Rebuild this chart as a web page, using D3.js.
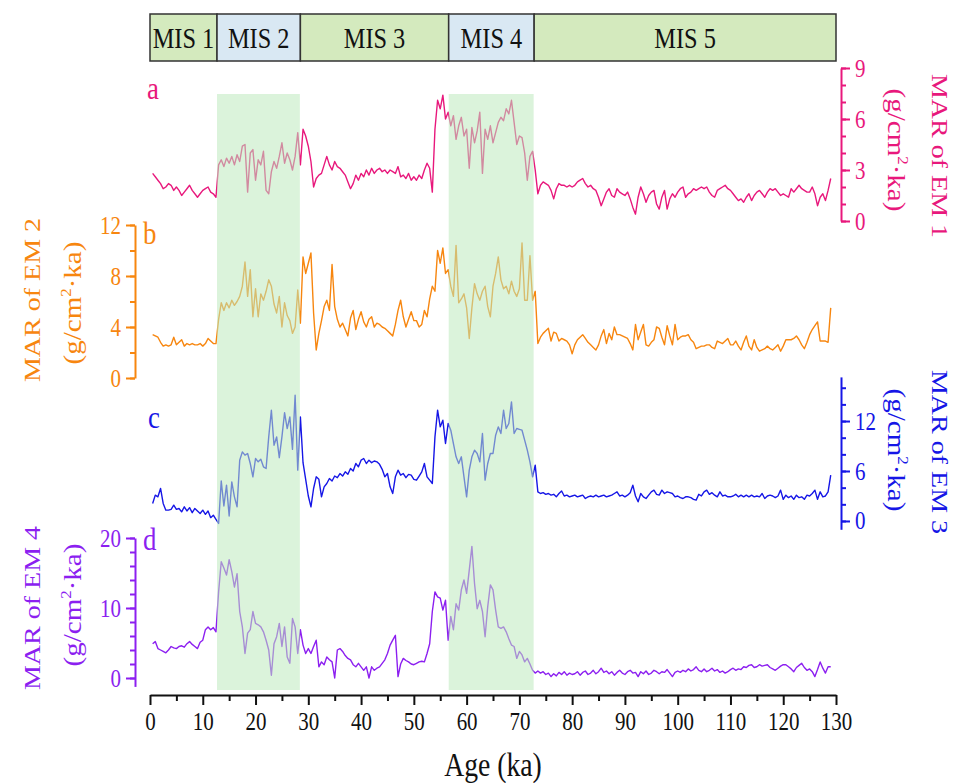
<!DOCTYPE html>
<html>
<head>
<meta charset="utf-8">
<script src="https://cdn.jsdelivr.net/npm/d3@7"></script>
<style>
	body { margin: 0; background: #fff; }
	svg text { font-family: "Liberation Serif", "DejaVu Serif", serif; }
</style>
</head>
<body>
<svg id="chart" width="968" height="783"></svg>
<script>
// ---- data ---------------------------------------------------------------
// sample ages, 0.5 ... 129.0 ka
const ages = d3.range(1, 259).map(i => i * 0.5);

// MAR of EM 1 (g/cm2.ka)
const em1 = [
	2.8, 2.6, 2.4, 2.2, 1.9, 2.0, 2.2, 2.1, 1.8, 2.0, 1.8, 1.5, 1.7, 1.9, 2.1, 1.8, 1.6, 1.4, 1.6, 1.8,
	1.9, 2.0, 1.7, 1.6, 1.4, 3.3, 3.6, 3.2, 3.7, 3.4, 3.8, 3.3, 3.9, 3.5, 4.4, 4.5, 1.7, 4.0, 4.2, 2.4,
	3.6, 3.3, 4.1, 1.8, 1.6, 2.9, 3.5, 3.1, 3.8, 4.6, 3.4, 4.0, 3.6, 3.0, 3.8, 5.2, 3.3, 5.4, 5.0, 4.4,
	3.5, 2.0, 2.5, 2.7, 2.8, 3.3, 3.8, 3.3, 3.0, 3.5, 3.2, 3.1, 2.9, 2.7, 2.3, 1.9, 2.2, 2.7, 2.4, 2.8,
	2.6, 3.0, 2.7, 3.1, 2.8, 3.0, 3.1, 2.9, 3.0, 2.8, 3.0, 2.9, 2.8, 3.2, 2.6, 2.7, 2.5, 2.8, 2.4, 2.6,
	2.4, 2.7, 2.5, 3.0, 3.4, 3.1, 1.7, 5.4, 7.1, 6.6, 7.4, 6.0, 6.4, 5.6, 6.2, 4.8, 5.6, 6.1, 5.0, 5.4,
	3.1, 5.5, 4.6, 5.3, 6.4, 2.8, 5.4, 4.8, 5.6, 4.6, 5.2, 5.8, 6.1, 5.9, 6.6, 6.3, 7.1, 5.8, 4.5, 5.0,
	4.9, 4.0, 2.4, 3.8, 4.1, 3.0, 1.6, 2.1, 2.3, 2.2, 2.1, 1.8, 1.3, 1.9, 2.2, 2.1, 2.1, 2.0, 2.1, 2.0,
	2.1, 2.3, 2.4, 2.5, 2.2, 2.0, 2.1, 1.9, 1.8, 1.4, 0.9, 1.3, 1.7, 1.9, 1.5, 1.4, 1.9, 1.7, 1.6, 1.5,
	1.7, 1.3, 0.8, 0.4, 1.4, 2.0, 1.6, 1.1, 1.5, 1.7, 1.8, 1.0, 0.7, 1.4, 1.8, 0.7, 1.3, 1.6, 1.4, 1.7,
	1.9, 2.0, 1.4, 1.6, 1.7, 1.9, 1.8, 1.9, 2.0, 1.9, 2.0, 1.7, 1.5, 1.4, 1.8, 1.9, 2.0, 2.1, 1.9, 1.8,
	1.6, 1.4, 1.2, 1.3, 1.1, 1.4, 1.6, 1.2, 1.5, 1.7, 1.8, 1.6, 1.4, 1.7, 1.9, 1.8, 1.9, 1.7, 1.5, 1.6,
	1.5, 1.4, 1.9, 1.7, 1.9, 2.1, 1.9, 1.8, 1.7, 1.7, 2.0, 1.6, 0.9, 1.4, 1.6, 1.2, 1.8, 2.5
];

// MAR of EM 2
const em2 = [
	3.4, 3.3, 3.2, 2.8, 2.5, 2.6, 2.5, 2.6, 3.2, 2.6, 2.8, 3.0, 2.5, 2.7, 2.6, 2.7, 2.6, 2.6, 2.7, 2.5,
	2.7, 3.1, 2.9, 2.7, 2.7, 4.6, 5.9, 5.3, 5.9, 5.5, 6.1, 5.7, 6.0, 6.4, 7.2, 9.1, 6.4, 8.5, 4.8, 7.0,
	4.8, 6.6, 6.1, 6.8, 7.7, 7.2, 5.8, 5.1, 6.4, 4.0, 5.9, 4.9, 4.5, 3.5, 4.0, 6.9, 4.3, 9.5, 8.2, 9.0,
	9.8, 5.1, 2.2, 3.5, 4.5, 5.6, 6.1, 5.3, 8.9, 5.6, 4.6, 4.0, 4.3, 3.8, 3.3, 4.7, 5.3, 3.8, 4.6, 5.2,
	4.4, 4.0, 4.6, 4.8, 4.0, 4.3, 4.2, 4.0, 3.9, 3.7, 3.5, 3.3, 4.2, 5.3, 6.1, 4.8, 4.0, 4.6, 5.2, 4.5,
	4.5, 4.0, 4.2, 5.3, 4.8, 6.2, 7.2, 6.8, 10.0, 9.0, 10.2, 8.2, 8.5, 7.2, 6.4, 10.4, 5.9, 6.2, 6.6, 5.5,
	3.1, 5.5, 7.4, 6.6, 6.1, 6.8, 7.2, 5.6, 4.8, 7.2, 8.2, 9.5, 7.7, 7.0, 7.2, 6.6, 7.6, 6.8, 6.4, 7.0,
	10.6, 6.1, 6.1, 9.6, 6.1, 6.8, 2.7, 3.2, 3.5, 3.7, 3.9, 2.9, 3.6, 3.5, 2.9, 3.1, 3.0, 2.9, 2.6, 1.9,
	2.6, 3.0, 3.2, 3.4, 3.1, 2.8, 2.6, 2.4, 2.2, 2.6, 3.3, 3.8, 2.7, 3.5, 3.0, 4.0, 3.4, 3.4, 3.3, 3.2,
	3.1, 2.7, 2.2, 4.2, 3.0, 3.6, 4.2, 2.6, 2.5, 2.8, 3.0, 4.0, 3.9, 3.2, 2.6, 4.1, 3.3, 2.6, 4.2, 3.0,
	3.2, 3.3, 3.3, 3.4, 3.0, 2.8, 2.3, 2.4, 2.5, 2.5, 2.6, 2.6, 2.4, 2.3, 2.9, 2.8, 2.7, 2.9, 3.1, 2.6,
	2.6, 2.9, 2.5, 2.2, 2.8, 3.3, 2.5, 2.2, 3.0, 2.4, 2.1, 2.2, 2.3, 2.5, 2.3, 2.2, 2.4, 2.6, 2.1, 2.5,
	3.0, 3.0, 3.0, 3.1, 3.3, 3.0, 2.6, 2.3, 2.8, 3.4, 3.8, 4.1, 4.4, 2.9, 2.9, 2.9, 2.8, 5.5
];

// MAR of EM 3
const em3 = [
	2.1, 3.1, 2.9, 3.9, 2.1, 1.3, 1.3, 1.4, 1.9, 1.4, 1.5, 1.1, 1.7, 1.2, 1.6, 1.0, 1.5, 1.2, 0.9, 1.3,
	0.8, 1.2, 0.4, 0.7, 0.2, -0.3, 4.8, 1.8, 4.3, 0.6, 4.7, 2.9, 1.7, 7.3, 8.3, 7.9, 8.1, 6.9, 5.3, 7.5,
	7.1, 7.4, 6.5, 6.3, 10.1, 13.3, 9.1, 10.1, 7.6, 10.1, 13.0, 11.1, 12.5, 8.6, 15.1, 6.1, 12.5, 7.0, 5.0, 3.0,
	1.7, 3.9, 5.3, 5.0, 2.9, 4.1, 4.5, 5.1, 4.8, 5.4, 5.2, 5.7, 5.4, 5.9, 5.6, 6.3, 6.0, 6.9, 6.5, 7.3,
	7.5, 6.9, 7.3, 7.0, 7.2, 7.1, 6.8, 6.2, 5.3, 5.7, 4.1, 3.3, 5.3, 6.1, 5.5, 5.7, 5.2, 5.6, 5.5, 5.0,
	4.9, 5.4, 5.9, 6.9, 5.3, 4.9, 4.5, 10.1, 13.3, 11.3, 12.1, 9.3, 11.7, 10.9, 9.3, 7.7, 6.9, 7.7, 5.3, 2.9,
	6.1, 7.7, 8.5, 8.1, 7.1, 10.5, 4.9, 6.9, 8.1, 8.1, 10.3, 11.3, 10.5, 13.3, 11.1, 11.7, 14.3, 10.5, 11.1, 11.0,
	10.9, 9.7, 8.5, 7.1, 5.3, 6.7, 3.5, 3.3, 3.4, 3.2, 3.3, 3.1, 3.2, 2.9, 3.3, 3.6, 3.0, 3.1, 2.9, 3.0,
	3.1, 2.9, 3.0, 3.1, 2.7, 2.9, 3.0, 2.9, 3.1, 2.9, 3.0, 3.1, 2.9, 3.0, 3.1, 3.3, 3.5, 3.0, 3.1, 2.9,
	3.1, 3.4, 4.3, 3.0, 2.3, 3.3, 2.9, 2.7, 3.1, 3.5, 3.7, 3.2, 3.1, 3.7, 3.3, 3.5, 3.4, 3.3, 2.9, 3.0,
	2.8, 2.7, 2.9, 2.9, 2.8, 2.6, 2.5, 3.2, 3.0, 3.5, 3.7, 3.2, 3.4, 3.1, 2.9, 3.5, 3.0, 3.1, 2.9, 2.9,
	3.0, 3.2, 2.9, 3.1, 2.9, 3.1, 2.9, 3.1, 2.9, 3.0, 2.9, 3.3, 2.7, 3.0, 3.1, 3.0, 2.8, 3.0, 3.7, 2.6,
	3.1, 2.8, 3.0, 2.6, 3.1, 2.8, 2.9, 2.6, 3.1, 3.0, 3.3, 3.7, 2.6, 3.5, 2.9, 3.0, 3.5, 5.5
];

// MAR of EM 4
const em4 = [
	4.9, 5.2, 4.2, 4.0, 3.8, 3.6, 4.0, 4.5, 4.3, 4.2, 4.5, 4.6, 4.4, 4.9, 5.2, 4.8, 4.5, 4.2, 5.1, 5.4,
	6.9, 7.3, 6.9, 7.2, 6.6, 12.3, 16.6, 15.7, 14.7, 16.9, 15.2, 13.0, 14.9, 9.5, 7.3, 3.5, 6.4, 6.9, 9.5, 7.8,
	7.6, 7.3, 6.6, 5.4, 4.0, 0.4, 4.9, 5.9, 7.8, 4.5, 7.3, 3.0, 2.1, 8.5, 7.3, 3.5, 6.9, 4.7, 3.5, 4.2,
	3.5, 4.5, 5.4, 1.6, 2.3, 1.9, 3.0, 2.6, 2.3, 0.0, 4.0, 4.2, 3.8, 3.2, 2.8, 2.6, 1.9, 1.6, 2.1, 1.6,
	1.1, 1.6, 0.0, 1.6, 1.1, 1.4, 1.6, 2.1, 2.6, 3.5, 4.7, 5.4, 6.1, 0.2, 2.0, 2.8, 2.5, 2.3, 2.0, 1.9,
	2.1, 2.3, 2.4, 2.3, 3.5, 4.9, 9.5, 12.3, 11.6, 11.4, 9.7, 11.1, 5.4, 8.8, 6.9, 10.6, 9.7, 12.6, 14.0, 12.1,
	15.4, 18.8, 13.5, 9.9, 11.1, 9.5, 5.9, 10.2, 13.3, 12.6, 9.7, 7.3, 7.1, 7.3, 6.6, 5.6, 4.7, 4.5, 2.8, 3.8,
	3.3, 2.3, 2.8, 2.0, 1.1, 0.7, 1.0, 0.7, 0.9, 0.5, 0.7, 0.2, 0.6, 0.3, 0.8, 0.5, 0.9, 0.4, 0.7, 0.5,
	0.6, 0.9, 0.4, 0.8, 1.0, 0.5, 0.7, 1.1, 0.6, 0.9, 1.4, 0.8, 1.0, 0.6, 0.9, 0.4, 0.8, 1.1, 0.7, 0.5,
	0.9, 1.1, 0.7, 0.8, 0.2, 0.9, 0.6, 1.0, 0.5, 0.7, 1.1, 0.9, 0.6, 0.9, 0.8, 1.2, 0.7, 0.2, 0.8, 1.0,
	0.8, 1.1, 0.9, 1.3, 1.0, 1.2, 1.6, 1.1, 0.9, 1.3, 0.9, 1.1, 1.4, 1.0, 1.2, 0.8, 1.0, 0.7, 0.9, 1.2,
	1.4, 1.1, 1.3, 1.2, 1.6, 1.5, 1.8, 1.9, 1.5, 1.6, 1.9, 1.7, 1.8, 1.9, 1.5, 1.3, 1.1, 1.4, 1.7, 1.9,
	1.9, 1.6, 1.3, 0.9, 1.5, 1.8, 2.1, 1.5, 1.1, 1.3, 0.9, 0.2, 1.2, 2.3, 1.4, 0.7, 1.6, 1.6
];

// marine isotope stages (ka)
const misNames = ['MIS 1', 'MIS 2', 'MIS 3', 'MIS 4', 'MIS 5'];
const misBounds = [0, 12.7, 28.5, 56.6, 72.8, 130];
const glacialBands = [[12.7, 28.4], [56.6, 72.7]];

// tick values
const xMajor = [0, 10, 20, 30, 40, 50, 60, 70, 80, 90, 100, 110, 120, 130];
const xMinor = [5, 15, 25, 35, 45, 55, 65, 75, 85, 95, 105, 115, 125];
const ticksA = [0, 3, 6, 9],   minorA = [0, 1, 2, 3, 4, 5, 6, 7, 8, 9];
const ticksB = [0, 4, 8, 12],  minorB = [0, 2, 4, 6, 8, 10, 12];
const ticksC = [0, 6, 12],     minorC = [0, 2, 4, 6, 8, 10, 12, 14, 16];
const ticksD = [0, 10, 20],    minorD = [0, 2, 4, 6, 8, 10, 12, 14, 16, 18, 20];

// ---- drawing -------------------------------------------------------------
const FONT = '"Liberation Serif", "DejaVu Serif", serif';
const svg = d3.select('#chart').attr('font-family', FONT);
const SQ = 0.84; // the source figure is a bit narrower than its type

// squeeze a text horizontally around its own anchor
function sq(sel) {
	sel.each(function() {
		const t = d3.select(this);
		const tx = +t.attr('x') || 0;
		t.attr('transform', `translate(${tx * (1 - SQ)},0) scale(${SQ},1)`);
	});
}

const x = d3.scaleLinear().domain([0, 130]).range([150, 836]);

// MIS bar
const misG = svg.append('g');
misG.selectAll('rect').data(misNames).join('rect')
	.attr('x', (d, i) => x(misBounds[i]))
	.attr('width', (d, i) => x(misBounds[i + 1]) - x(misBounds[i]))
	.attr('y', 14).attr('height', 47)
	.attr('fill', (d, i) => i % 2 ? '#d9e8f3' : '#d4eabe')
	.attr('stroke', '#333').attr('stroke-width', 1.5);
misG.selectAll('text').data(misNames).join('text')
	.attr('x', (d, i) => (x(misBounds[i]) + x(misBounds[i + 1])) / 2)
	.attr('y', 48)
	.attr('text-anchor', 'middle')
	.attr('font-family', FONT)
	.attr('font-size', 29)
	.attr('fill', '#111')
	.text(d => d)
	.call(sq);

const panels = [
	{values: em1, color: '#e8187c', domain: [0, 9],     range: [221, 68],      side: 'right', major: ticksA, minor: minorA, title: 'MAR of EM 1', letter: 'a', lx: 147, ly: 99,  tx: [897, 940], ty: [150, 156]},
	{values: em2, color: '#f7860f', domain: [0, 12],    range: [378, 225],     side: 'left',  major: ticksB, minor: minorB, title: 'MAR of EM 2', letter: 'b', lx: 143, ly: 244, tx: [72, 32],   ty: [303, 300]},
	{values: em3, color: '#1616e6', domain: [-1, 17.3], range: [529.3, 376.9], side: 'right', major: ticksC, minor: minorC, title: 'MAR of EM 3', letter: 'c', lx: 148, ly: 428, tx: [897, 940], ty: [450, 452]},
	{values: em4, color: '#8c1ff0', domain: [-1.2, 20], range: [686.4, 538],   side: 'left',  major: ticksD, minor: minorD, title: 'MAR of EM 4', letter: 'd', lx: 143, ly: 550, tx: [72, 32],   ty: [605, 608]}
];

panels.forEach(p => {
	p.y = d3.scaleLinear().domain(p.domain).range(p.range);
	const line = d3.line()
		.x((d, i) => x(ages[i]))
		.y(d => p.y(d));
	svg.append('path')
		.attr('d', line(p.values))
		.attr('fill', 'none')
		.attr('stroke', p.color)
		.attr('stroke-width', 1.4)
		.attr('stroke-linejoin', 'round');
});

// glacial bands, drawn over the curves so they wash them out
svg.append('g').selectAll('rect').data(glacialBands).join('rect')
	.attr('x', d => x(d[0]))
	.attr('width', d => x(d[1]) - x(d[0]))
	.attr('y', 94).attr('height', 596)
	.attr('fill', '#bde9bd')
	.attr('opacity', 0.55);

panels.forEach(p => {
	const right = p.side === 'right';
	const ax = right ? 841 : 135;
	const mk = right ? d3.axisRight : d3.axisLeft;

	const gMinor = svg.append('g')
		.attr('transform', `translate(${ax},0)`)
		.call(mk(p.y).tickValues(p.minor).tickSize(5).tickFormat(''));
	gMinor.select('.domain').remove();
	gMinor.selectAll('line').attr('stroke', p.color).attr('stroke-width', 2);

	const gMajor = svg.append('g')
		.attr('transform', `translate(${ax},0)`)
		.call(mk(p.y).tickValues(p.major).tickSize(9).tickSizeOuter(0).tickPadding(5));
	gMajor.attr('font-family', FONT).attr('font-size', 25);
	gMajor.selectAll('path,line').attr('stroke', p.color).attr('stroke-width', 2);
	gMajor.selectAll('text')
		.attr('fill', p.color)
		.call(sq);

	// panel letter
	svg.append('text')
		.attr('x', p.lx).attr('y', p.ly)
		.attr('font-family', FONT)
		.attr('font-size', 32)
		.attr('fill', p.color)
		.text(p.letter)
		.call(sq);

	// axis titles
	const rot = right ? 90 : -90;
	svg.append('text')
		.attr('transform', `translate(${p.tx[1]},${p.ty[1]}) rotate(${rot}) scale(1,${SQ})`)
		.attr('text-anchor', 'middle')
		.attr('dy', '0.35em')
		.attr('font-family', FONT)
		.attr('font-size', 28)
		.attr('fill', p.color)
		.text(p.title);

	const unit = svg.append('text')
		.attr('transform', `translate(${p.tx[0]},${p.ty[0]}) rotate(${rot}) scale(1,${SQ})`)
		.attr('text-anchor', 'middle')
		.attr('dy', '0.35em')
		.attr('font-family', FONT)
		.attr('font-size', 29)
		.attr('fill', p.color);
	unit.append('tspan').text('(g/cm');
	unit.append('tspan').attr('dy', -11).attr('font-size', 17).text('2');
	unit.append('tspan').attr('dy', 11).text('·ka)');
});

// age axis
const gxMinor = svg.append('g')
	.attr('transform', 'translate(0,695)')
	.call(d3.axisBottom(x).tickValues(xMinor).tickSize(6).tickFormat(''));
gxMinor.select('.domain').remove();
gxMinor.selectAll('line').attr('stroke', '#111').attr('stroke-width', 2);

const gx = svg.append('g')
	.attr('transform', 'translate(0,695)')
	.call(d3.axisBottom(x).tickValues(xMajor).tickSize(10).tickSizeOuter(0).tickPadding(7));
gx.attr('font-family', FONT).attr('font-size', 25);
gx.selectAll('path,line').attr('stroke', '#111').attr('stroke-width', 2);
gx.selectAll('text')
	.attr('fill', '#111')
	.call(sq);

svg.append('text')
	.attr('x', 493).attr('y', 776)
	.attr('text-anchor', 'middle')
	.attr('font-family', FONT)
	.attr('font-size', 33)
	.attr('fill', '#111')
	.text('Age (ka)')
	.call(sq);
</script>
</body>
</html>
